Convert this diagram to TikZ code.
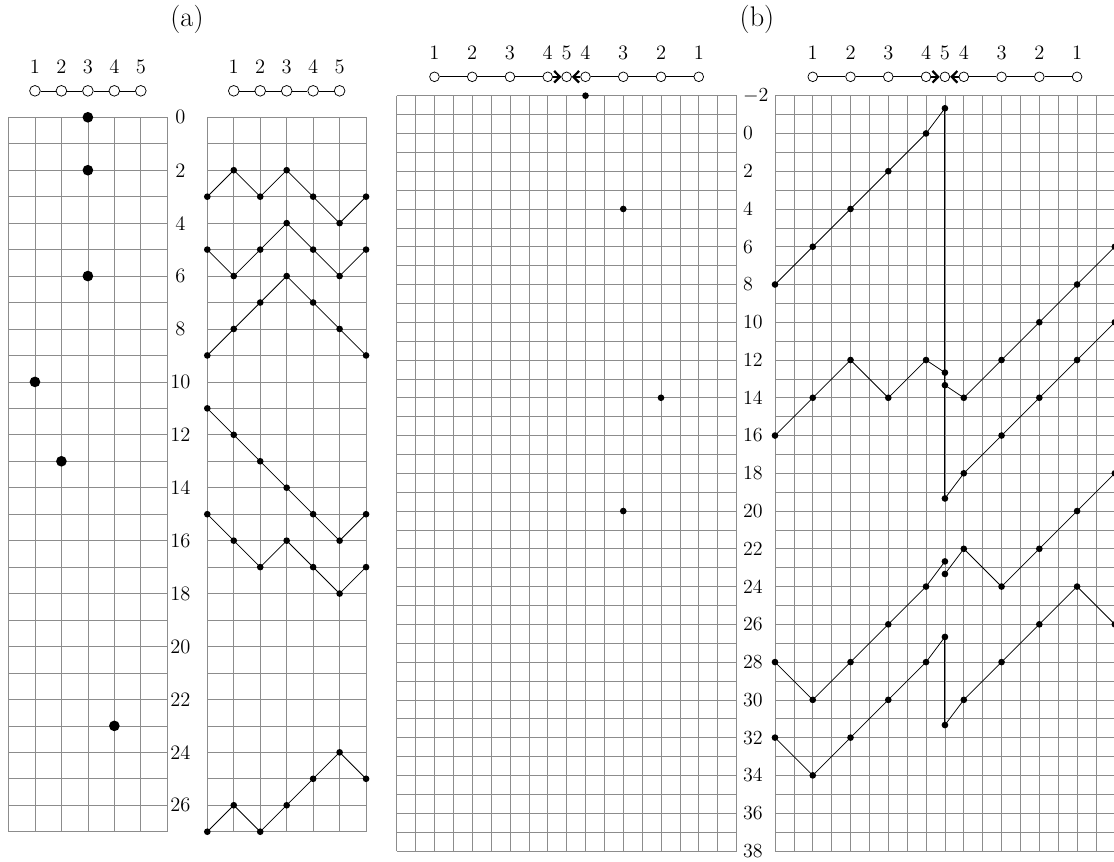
\documentclass[tikz,border=0pt]{standalone}
\usepackage{tikz}
\usetikzlibrary{arrows.meta}

\begin{document}
\begin{tikzpicture}[x=0.6pt,y=-0.6pt,
  font=\fontsize{12.3}{14}\selectfont,
  gridline/.style={black!45,line width=0.4pt},
  vtx/.style={circle,draw,fill=white,inner sep=0pt,minimum size=6.4pt,line width=0.45pt},
  bigdot/.style={circle,fill,inner sep=0pt,minimum size=6.4pt},
  smalldot/.style={circle,fill,inner sep=0pt,minimum size=4pt},
  walk/.style={line width=0.45pt},
  fold/.style={line width=0.6pt},
  into/.style={-{Straight Barb[length=3.4pt,width=7pt]},line width=1.35pt},
  title/.style={font=\fontsize{17}{20}\selectfont}
]
\useasboundingbox (0,0) rectangle (1114,862);

\node[title] (ta) at (187,19) {(a)};
\node[title] (tb) at (757,19) {(b)};

% (a) left: single walkers
\begin{scope}[shift={(8.5,117.3)},x=15.876pt,y=-15.876pt]
  \foreach \cc in {0,...,6} \draw[gridline] (\cc,0) -- (\cc,27);
  \foreach \rr in {0,...,27} \draw[gridline] (0,\rr) -- (6,\rr);
  \foreach \i in {1,...,5} {
    \node[vtx] (la\i) at (\i,-1) {};
    \node at (\i,-1.9) {\i};
  }
  \foreach \i/\j in {1/2,2/3,3/4,4/5} \draw (la\i) -- (la\j);
  \foreach \cc/\rr in {3/0,3/2,3/6,1/10,2/13,4/23} \node[bigdot] at (\cc,\rr) {};
  \foreach \rr in {0,2,...,26} \node at (6.5,\rr) {\rr};
\end{scope}

% (a) right: zigzag walks
\begin{scope}[shift={(207.3,117.3)},x=15.876pt,y=-15.876pt]
  \foreach \cc in {0,...,6} \draw[gridline] (\cc,0) -- (\cc,27);
  \foreach \rr in {0,...,27} \draw[gridline] (0,\rr) -- (6,\rr);
  \foreach \i in {1,...,5} {
    \node[vtx] (ra\i) at (\i,-1) {};
    \node at (\i,-1.9) {\i};
  }
  \foreach \i/\j in {1/2,2/3,3/4,4/5} \draw (ra\i) -- (ra\j);
  \foreach \ya/\yb/\yc/\yd/\ye/\yf/\yg in {3/2/3/2/3/4/3,5/6/5/4/5/6/5,
      9/8/7/6/7/8/9,11/12/13/14/15/16/15,15/16/17/16/17/18/17,
      27/26/27/26/25/24/25}
    \draw[walk] (0,\ya) node[smalldot]{} -- (1,\yb) node[smalldot]{}
      -- (2,\yc) node[smalldot]{} -- (3,\yd) node[smalldot]{}
      -- (4,\ye) node[smalldot]{} -- (5,\yf) node[smalldot]{}
      -- (6,\yg) node[smalldot]{};
\end{scope}

% (b) left: unfolded line
\begin{scope}[shift={(396.7,133.46)},x=11.328pt,y=-11.328pt]
  \foreach \cc in {0,...,18} \draw[gridline] (\cc,-2) -- (\cc,38);
  \foreach \rr in {-2,...,38} \draw[gridline] (0,\rr) -- (18,\rr);
  \foreach \cc/\lab [count=\k] in {2/1,4/2,6/3,8/4,9/5,10/4,12/3,14/2,16/1} {
    \node[vtx,minimum size=5.8pt] (lb\k) at (\cc,-3) {};
    \node at (\cc,-4.29) {\lab};
  }
  \foreach \i/\j in {1/2,2/3,3/4,6/7,7/8,8/9} \draw (lb\i) -- (lb\j);
  \draw[into] (lb4) -- (lb5);
  \draw[into] (lb6) -- (lb5);
  \foreach \cc/\rr in {10/-2,12/4,14/14,12/20} \node[smalldot] at (\cc,\rr) {};
  \foreach \rr in {-2,0,...,38} \node[anchor=west,inner sep=0pt] at (18.33,\rr) {$\rr$};
\end{scope}

% (b) right: folded walks
\begin{scope}[shift={(775,133.46)},x=11.328pt,y=-11.328pt]
  \foreach \cc in {0,...,18} \draw[gridline] (\cc,-2) -- (\cc,38);
  \foreach \rr in {-2,...,38} \draw[gridline] (0,\rr) -- (18,\rr);
  \foreach \cc/\lab [count=\k] in {2/1,4/2,6/3,8/4,9/5,10/4,12/3,14/2,16/1} {
    \node[vtx,minimum size=5.8pt] (rb\k) at (\cc,-3) {};
    \node at (\cc,-4.29) {\lab};
  }
  \foreach \i/\j in {1/2,2/3,3/4,6/7,7/8,8/9} \draw (rb\i) -- (rb\j);
  \draw[into] (rb4) -- (rb5);
  \draw[into] (rb6) -- (rb5);
  \draw[walk] (0,8) -- (2,6) -- (4,4) -- (6,2) -- (8,0) -- (9,-1.333);
  \draw[fold] (9,-1.333) -- (9,19.333);
  \draw[walk] (9,19.333) -- (10,18) -- (12,16) -- (14,14) -- (16,12) -- (18,10);
  \draw[walk] (0,16) -- (2,14) -- (4,12) -- (6,14) -- (8,12) -- (9,12.667);
  \draw[walk] (9,13.333) -- (10,14) -- (12,12) -- (14,10) -- (16,8) -- (18,6);
  \draw[walk] (0,28) -- (2,30) -- (4,28) -- (6,26) -- (8,24) -- (9,22.667);
  \draw[walk] (9,23.333) -- (10,22) -- (12,24) -- (14,22) -- (16,20) -- (18,18);
  \draw[walk] (0,32) -- (2,34) -- (4,32) -- (6,30) -- (8,28) -- (9,26.667);
  \draw[fold] (9,26.667) -- (9,31.333);
  \draw[walk] (9,31.333) -- (10,30) -- (12,28) -- (14,26) -- (16,24) -- (18,26);
  \foreach \pt in {(0,8),(2,6),(4,4),(6,2),(8,0),(9,-1.333),
      (9,19.333),(10,18),(12,16),(14,14),(16,12),(18,10),
      (0,16),(2,14),(4,12),(6,14),(8,12),(9,12.667),
      (9,13.333),(10,14),(12,12),(14,10),(16,8),(18,6),
      (0,28),(2,30),(4,28),(6,26),(8,24),(9,22.667),
      (9,23.333),(10,22),(12,24),(14,22),(16,20),(18,18),
      (0,32),(2,34),(4,32),(6,30),(8,28),(9,26.667),
      (9,31.333),(10,30),(12,28),(14,26),(16,24),(18,26)}
    \node[smalldot] at \pt {};
\end{scope}
\end{tikzpicture}
\end{document}
